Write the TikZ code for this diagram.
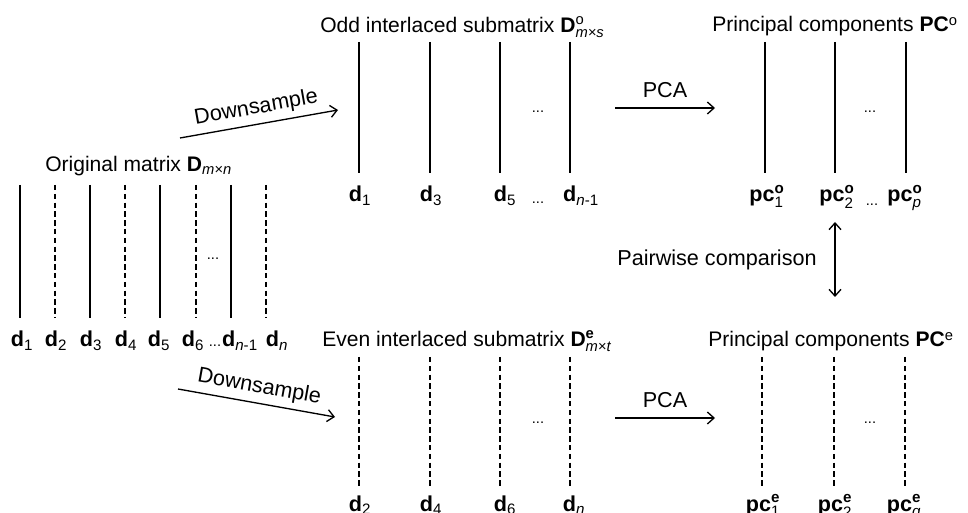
\documentclass[tikz,border=0pt]{standalone}
\usepackage{amsmath}
\usepackage{fontspec}
\setmainfont{Liberation Sans}
\usetikzlibrary{arrows.meta}

\newcommand{\colv}[2]{$\textbf{#1}_{\text{#2}}$}
\newcommand{\colvs}[3]{$\textbf{#1}^{\text{#3}}_{\text{#2}}$}

\tikzset{
  title/.style={anchor=base west, inner sep=0pt, font=\fontsize{15.8}{19}\selectfont},
  lab/.style={anchor=base, inner sep=0pt, font=\fontsize{16.2}{19}\selectfont},
  dotlab/.style={anchor=base, inner sep=0pt, font=\fontsize{11}{12}\selectfont},
  solidcol/.style={line width=1.2pt},
  dashcol/.style={line width=1.2pt, dash pattern=on 4pt off 2.6pt},
  flow/.style={line width=1pt, ->},
}

\begin{document}
\begin{tikzpicture}[x=0.75pt, y=-0.75pt, >={Straight Barb[length=5pt,width=9pt]}]
    \useasboundingbox (0,0) rectangle (968,513);

    % Original matrix
    \node[title] (orig) at (45,172) {Original matrix $\textbf{D}_{\text{\itshape m×n}}$};
    \foreach \x in {20,90,160,231} \draw[solidcol] (\x,185) -- (\x,318);
    \foreach \x in {55,125,196,266} \draw[dashcol] (\x,185) -- (\x,318);
    \node[dotlab] (origdots) at (213,260) {...};
    \foreach \x/\s [count=\i] in {22/1,56/2,91/3,126/4,159/5,193/6,240/{\textit{n}-1},277/\textit{n}}
        \node[lab] (dd\i) at (\x,347) {\colv{d}{\s}};
    \node[dotlab] (origldots) at (215,347) {...};

    % Odd interlaced submatrix
    \node[title] (odd) at (320,33) {Odd interlaced submatrix \colvs{D}{\itshape m×s}{o}};
    \foreach \x in {359,430,500,570} \draw[solidcol] (\x,42) -- (\x,173);
    \node[dotlab] (odddots) at (538,113) {...};
    \foreach \x/\s [count=\i] in {360/1,431/3,505/5,581/{\textit{n}-1}}
        \node[lab] (od\i) at (\x,202) {\colv{d}{\s}};
    \node[dotlab] (oddldots) at (538,204) {...};

    % Even interlaced submatrix
    \node[title] (even) at (322,347) {Even interlaced submatrix \colvs{D}{\itshape m×t}{\bfseries e}};
    \foreach \x in {359,430,500,570} \draw[dashcol] (\x,357) -- (\x,487);
    \node[dotlab] (evendots) at (538,423) {...};
    \foreach \x/\s [count=\i] in {360/2,431/4,505/6,574/\textit{n}}
        \node[lab] (ed\i) at (\x,511) {\colv{d}{\s}};

    % Principal components (odd)
    \node[title] (pco) at (712,32) {Principal components \textbf{PC}\textsuperscript{o}};
    \foreach \x in {765,835,906} \draw[solidcol] (\x,42) -- (\x,173);
    \node[dotlab] (pcodots) at (870,113) {...};
    \node[lab] (pco1) at (767,202) {\colvs{pc}{1}{\bfseries o}};
    \node[lab] (pco2) at (837,202) {\colvs{pc}{2}{\bfseries o}};
    \node[dotlab] (pcoldots) at (872,206) {...};
    \node[lab] (pcop) at (905,202) {\colvs{pc}{\itshape p}{\bfseries o}};

    % Principal components (even)
    \node[title] (pce) at (708,347) {Principal components \textbf{PC}\textsuperscript{e}};
    \foreach \x in {762,834,905} \draw[dashcol] (\x,357) -- (\x,487);
    \node[dotlab] (pcedots) at (870,423) {...};
    \node[lab] (pce1) at (763,511) {\colvs{pc}{1}{\bfseries e}};
    \node[lab] (pce2) at (835,511) {\colvs{pc}{2}{\bfseries e}};
    \node[dotlab] (pceldots) at (872,515) {...};
    \node[lab] (pceq) at (904,511) {\colvs{pc}{\itshape q}{\bfseries e}};

    % arrows
    \coordinate (dsoa) at (180,138);
    \coordinate (dsob) at (338,110);
    \coordinate (dsea) at (178,389);
    \coordinate (dseb) at (335,417);
    \draw[flow] (dsoa) -- node[lab, anchor=south, sloped, inner sep=4pt] (dsolab) {Downsample} (dsob);
    \draw[flow] (dsea) -- node[lab, anchor=south, sloped, inner sep=4pt] (dselab) {Downsample} (dseb);

    \coordinate (pcaoa) at (615,108);
    \coordinate (pcaob) at (715,108);
    \coordinate (pcaea) at (615,418);
    \coordinate (pcaeb) at (715,418);
    \draw[flow] (pcaoa) -- node[lab, anchor=south, inner sep=7pt] (pcaolab) {PCA} (pcaob);
    \draw[flow] (pcaea) -- node[lab, anchor=south, inner sep=7pt] (pcaelab) {PCA} (pcaeb);

    \coordinate (cmpa) at (835,222);
    \coordinate (cmpb) at (835,297);
    \draw[flow, <->] (cmpa) -- (cmpb);
    \node[lab, anchor=center] (cmplab) at (717,260) {Pairwise comparison};
\end{tikzpicture}
\end{document}
